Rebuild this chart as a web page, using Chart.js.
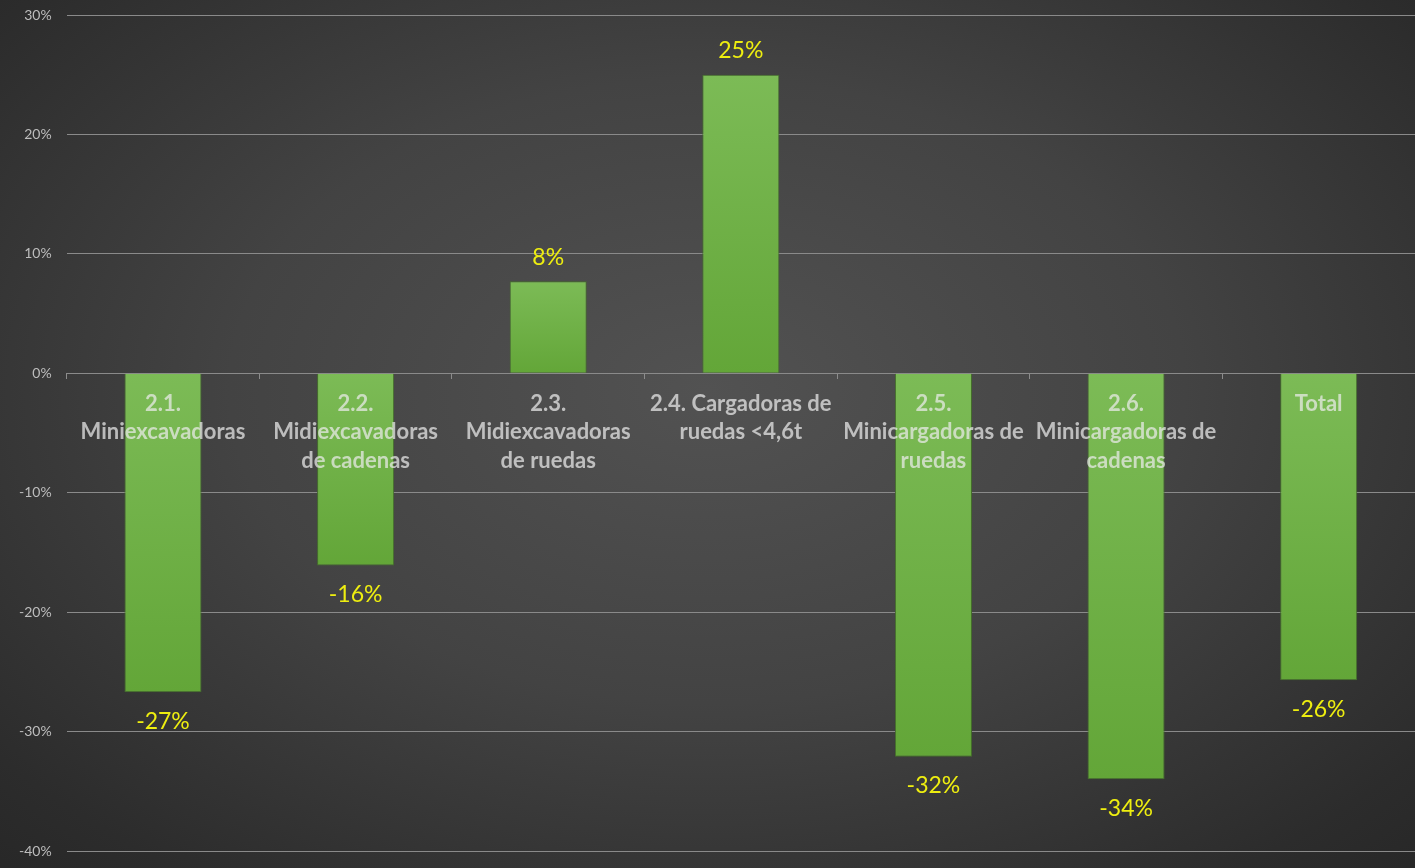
<!DOCTYPE html>
<html>
<head>
<meta charset="utf-8">
<script src="https://cdn.jsdelivr.net/npm/chart.js@4.4.0/dist/chart.umd.min.js"></script>
<style>
  html, body { margin: 0; padding: 0; }
  body {
    width: 1415px; height: 868px; overflow: hidden;
    background: radial-gradient(ellipse 75% 80% at 50% 45%, #525252 0%, #434343 45%, #2c2c2c 85%, #262626 100%);
  }
  #wrap { position: relative; width: 1415px; height: 868px; }
</style>
</head>
<body>
<div id="wrap"><canvas id="chart" width="1415" height="868"></canvas></div>
<script>
// categories (multi-line, as shown under the zero line)
const categories = [
  ['2.1.', 'Miniexcavadoras'],
  ['2.2.', 'Midiexcavadoras', 'de cadenas'],
  ['2.3.', 'Midiexcavadoras', 'de ruedas'],
  ['2.4. Cargadoras de', 'ruedas <4,6t'],
  ['2.5.', 'Minicargadoras de', 'ruedas'],
  ['2.6.', 'Minicargadoras de', 'cadenas'],
  ['Total']
];
// percentage change
const values = [-26.7, -16.1, 7.7, 25.0, -32.1, -34.0, -25.7];
const valueLabels = ['-27%', '-16%', '8%', '25%', '-32%', '-34%', '-26%'];
const yTicks = [-40, -30, -20, -10, 0, 10, 20, 30];

// bar gradient, lighter on top, darker at the bottom of each bar
function barFill(ctx) {
  const chart = ctx.chart;
  const y = chart.scales && chart.scales.y;
  if (!y || !ctx.parsed) return '#6fb046';
  const p0 = y.getPixelForValue(0);
  const p1 = y.getPixelForValue(ctx.parsed.y);
  const top = Math.min(p0, p1), bottom = Math.max(p0, p1);
  if (!isFinite(top) || !isFinite(bottom) || bottom - top < 1) return '#6fb046';
  const g = chart.ctx.createLinearGradient(0, top, 0, bottom);
  g.addColorStop(0, '#7cbb56');
  g.addColorStop(1, '#63a638');
  return g;
}

// no extra room for overhanging tick labels
function noPadding(scale) {
  scale.paddingTop = 0;
  scale.paddingBottom = 0;
  scale.paddingLeft = 0;
  scale.paddingRight = 0;
}

// value labels in yellow, above or below the bars
const valueLabelPlugin = {
  id: 'valueLabels',
  afterDatasetsDraw(chart) {
    const c = chart.ctx;
    const meta = chart.getDatasetMeta(0);
    c.save();
    c.font = '23px Lato';
    c.fillStyle = '#eeee10';
    c.textAlign = 'center';
    c.textBaseline = 'middle';
    meta.data.forEach(function (bar, i) {
      const v = values[i];
      const y = v >= 0 ? bar.y - 24 : bar.y + 29;
      c.fillText(valueLabels[i], bar.x, y);
    });
    c.restore();
  }
};

new Chart(document.getElementById('chart'), {
  type: 'bar',
  data: {
    labels: categories,
    datasets: [{
      data: values,
      backgroundColor: barFill,
      borderColor: '#456f2c',
      borderWidth: 1,
      borderSkipped: 'start',
      barPercentage: 0.4,
      categoryPercentage: 1.0
    }]
  },
  options: {
    responsive: false,
    animation: false,
    layout: { padding: { top: 15, right: 0, bottom: 17, left: 4 } },
    plugins: {
      legend: { display: false },
      tooltip: { enabled: false }
    },
    scales: {
      x: {
        position: { y: 0 },
        offset: true,
        afterFit: function (scale) { scale.height = 0; noPadding(scale); },
        border: { display: false },
        grid: {
          display: true,
          offset: true,
          drawOnChartArea: false,
          tickLength: 6,
          color: '#8c8c8c'
        },
        ticks: {
          z: 1,
          autoSkip: false,
          maxRotation: 0,
          padding: 10,
          color: 'rgba(235,235,235,0.72)',
          font: { family: 'Lato', size: 22, weight: 'bold', lineHeight: 1.3 }
        }
      },
      y: {
        min: yTicks[0],
        max: yTicks[yTicks.length - 1],
        afterBuildTicks: function (scale) {
          scale.ticks = yTicks.map(v => ({ value: v }));
        },
        afterFit: noPadding,
        border: { display: false },
        grid: {
          color: '#8a8a8a',
          lineWidth: 1,
          drawTicks: false
        },
        ticks: {
          padding: 15,
          color: '#bdbdbd',
          font: { family: 'Lato', size: 14 },
          callback: v => v + '%'
        }
      }
    }
  },
  plugins: [valueLabelPlugin]
});
</script>
</body>
</html>
